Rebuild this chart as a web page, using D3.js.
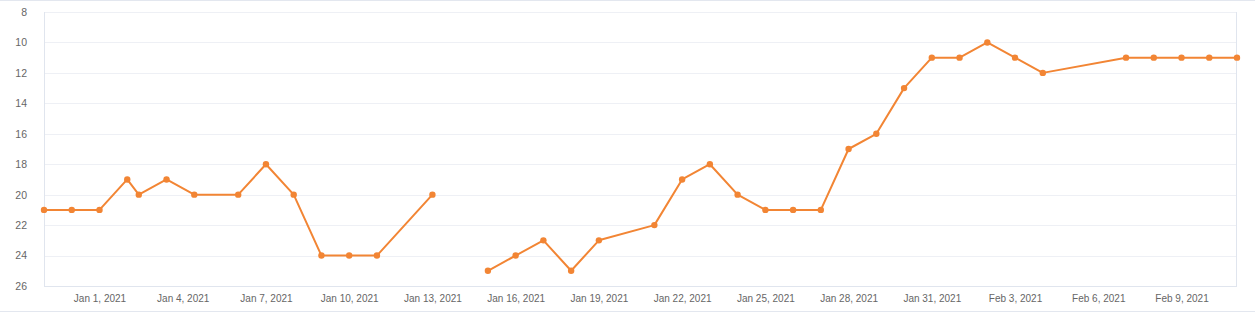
<!DOCTYPE html>
<html>
<head>
<meta charset="utf-8">
<script src="https://cdn.jsdelivr.net/npm/d3@7"></script>
<style>
  body { margin: 0; background: #fff; font-family: "Liberation Sans", Arial, sans-serif; overflow: hidden; }
  svg { display: block; }
</style>
</head>
<body>
<div id="chart"></div>
<script>
// data (rank-like values, y axis is inverted)
var dates = [
  "2020-12-30T00:00", "2020-12-31T00:00", "2021-01-01T00:00", "2021-01-02T00:00",
  "2021-01-02T10:00", "2021-01-03T10:00", "2021-01-04T10:00", "2021-01-06T00:00",
  "2021-01-07T00:00", "2021-01-08T00:00", "2021-01-09T00:00", "2021-01-10T00:00",
  "2021-01-11T00:00", "2021-01-13T00:00", "2021-01-14T00:00", "2021-01-15T00:00",
  "2021-01-16T00:00", "2021-01-17T00:00", "2021-01-18T00:00", "2021-01-19T00:00",
  "2021-01-21T00:00", "2021-01-22T00:00", "2021-01-23T00:00", "2021-01-24T00:00",
  "2021-01-25T00:00", "2021-01-26T00:00", "2021-01-27T00:00", "2021-01-28T00:00",
  "2021-01-29T00:00", "2021-01-30T00:00", "2021-01-31T00:00", "2021-02-01T00:00",
  "2021-02-02T00:00", "2021-02-03T00:00", "2021-02-04T00:00", "2021-02-07T00:00",
  "2021-02-08T00:00", "2021-02-09T00:00", "2021-02-10T00:00", "2021-02-11T00:00"
];
var values = [
  21, 21, 21, 19,
  20, 19, 20, 20,
  18, 20, 24, 24,
  24, 20, null, 25,
  24, 23, 25, 23,
  22, 19, 18, 20,
  21, 21, 21, 17,
  16, 13, 11, 11,
  10, 11, 12, 11,
  11, 11, 11, 11
];
var yTicks = [8, 10, 12, 14, 16, 18, 20, 22, 24, 26];
var xTicks = ["2021-01-01", "2021-01-04", "2021-01-07", "2021-01-10", "2021-01-13",
  "2021-01-16", "2021-01-19", "2021-01-22", "2021-01-25", "2021-01-28",
  "2021-01-31", "2021-02-03", "2021-02-06", "2021-02-09"];

var outerWidth = 1255, outerHeight = 312;
var margin = {top: 12, right: 18, bottom: 26, left: 44},
    innerWidth = outerWidth - margin.left - margin.right,
    innerHeight = outerHeight - margin.top - margin.bottom;

var parse = d3.timeParse("%Y-%m-%dT%H:%M");
var parseDay = d3.timeParse("%Y-%m-%d");
var data = dates.map(function(d, i) { return {date: parse(d), value: values[i]}; });

var svg = d3.select("#chart").append("svg")
    .attr("width", outerWidth)
    .attr("height", outerHeight);

// outer frame lines
svg.append("line").attr("x1", 0).attr("x2", outerWidth).attr("y1", 0.5).attr("y2", 0.5)
    .attr("stroke", "#e3e7ef");
svg.append("line").attr("x1", 0).attr("x2", outerWidth).attr("y1", outerHeight - 0.5).attr("y2", outerHeight - 0.5)
    .attr("stroke", "#e3e7ef");

var g = svg.append("g")
    .attr("transform", "translate(" + margin.left + "," + margin.top + ")");

var x = d3.scaleTime()
    .domain([parse("2020-12-30T00:00"), parse("2021-02-11T00:00")])
    .range([0, innerWidth]);

var y = d3.scaleLinear()
    .domain([8, 26])
    .range([0, innerHeight]);

// grid lines
g.append("g")
    .selectAll("line")
    .data(yTicks)
    .enter().append("line")
    .attr("x1", 0).attr("x2", innerWidth)
    .attr("y1", function(d) { return Math.round(y(d)) + 0.5; })
    .attr("y2", function(d) { return Math.round(y(d)) + 0.5; })
    .attr("stroke", "#eef0f5");

// plot border: left, right, bottom
g.append("line").attr("x1", 0.5).attr("x2", 0.5).attr("y1", 0).attr("y2", innerHeight)
    .attr("stroke", "#e0e5ee");
g.append("line").attr("x1", innerWidth - 0.5).attr("x2", innerWidth - 0.5).attr("y1", 0).attr("y2", innerHeight)
    .attr("stroke", "#e0e5ee");
g.append("line").attr("x1", 0).attr("x2", innerWidth).attr("y1", innerHeight + 0.5).attr("y2", innerHeight + 0.5)
    .attr("stroke", "#e0e5ee");

// y axis labels
var yAxis = g.append("g")
    .call(d3.axisLeft(y).tickValues(yTicks).tickSize(0).tickPadding(17));
yAxis.select(".domain").remove();
yAxis.selectAll("text")
    .style("font-size", "10.5px")
    .style("font-family", "Liberation Sans, Arial, sans-serif")
    .attr("fill", "#666");

// x axis labels
var xAxis = g.append("g")
    .attr("transform", "translate(0," + innerHeight + ")")
    .call(d3.axisBottom(x)
        .tickValues(xTicks.map(parseDay))
        .tickFormat(d3.timeFormat("%b %-d, %Y"))
        .tickSize(0).tickPadding(8.5));
xAxis.select(".domain").remove();
xAxis.selectAll("text")
    .style("font-size", "10px")
    .style("font-family", "Liberation Sans, Arial, sans-serif")
    .attr("fill", "#666");

var orange = "#f28534";

var line = d3.line()
    .defined(function(d) { return d.value != null; })
    .x(function(d) { return x(d.date); })
    .y(function(d) { return y(d.value); });

g.append("path")
    .datum(data)
    .attr("fill", "none")
    .attr("stroke", orange)
    .attr("stroke-width", 2)
    .attr("stroke-linejoin", "round")
    .attr("d", line);

g.selectAll(".dot")
    .data(data.filter(function(d) { return d.value != null; }))
    .enter().append("circle")
    .attr("class", "dot")
    .attr("cx", function(d) { return x(d.date); })
    .attr("cy", function(d) { return y(d.value); })
    .attr("r", 3.2)
    .attr("fill", orange);
</script>
</body>
</html>
